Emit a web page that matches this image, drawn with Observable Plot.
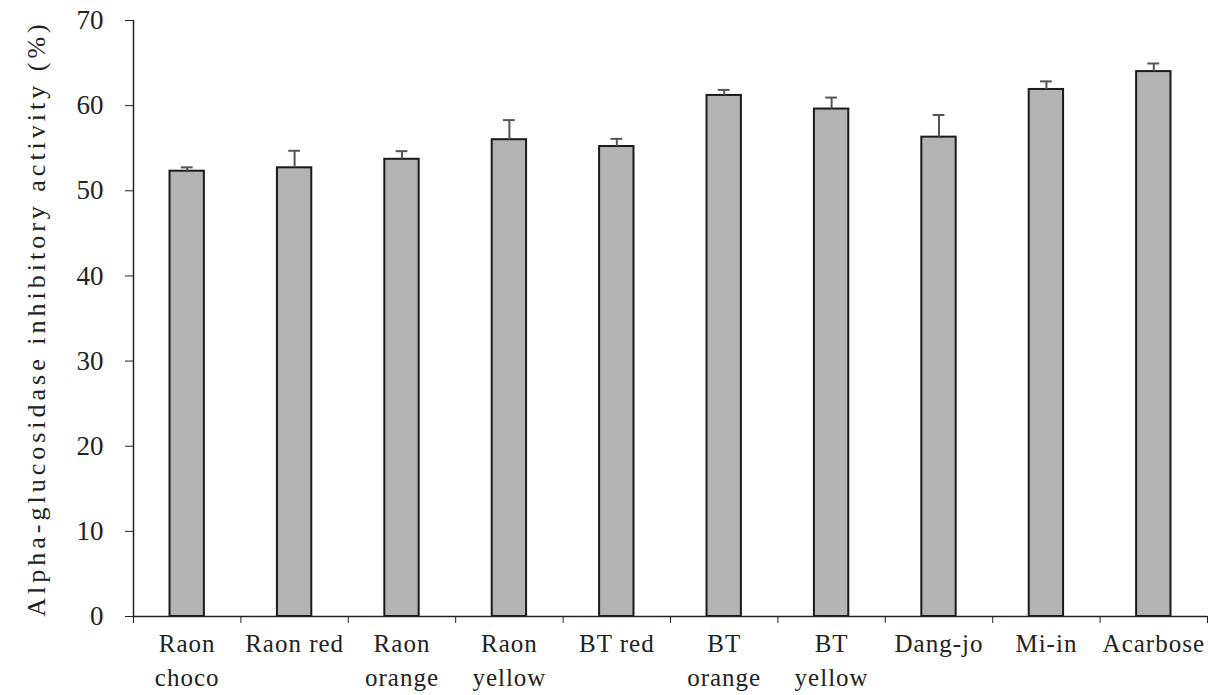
<!DOCTYPE html>
<html><head><meta charset="utf-8">
<script src="https://cdn.jsdelivr.net/npm/d3@7"></script>
<script src="https://cdn.jsdelivr.net/npm/@observablehq/plot@0.6"></script>
<style>body{margin:0;background:#fff}</style>
</head><body><div id="chart"></div>
<script>
const categories = ["Raon\nchoco","Raon red","Raon\norange","Raon\nyellow","BT red","BT\norange","BT\nyellow","Dang-jo","Mi-in","Acarbose"];
const values = [52.3, 52.7, 53.7, 56.0, 55.2, 61.2, 59.6, 56.3, 61.9, 64.0];
const errors = [0.45, 2.0, 0.95, 2.3, 0.9, 0.65, 1.35, 2.6, 0.95, 0.95];
const yTicks = [0,10,20,30,40,50,60,70];
const yLabel = "Alpha-glucosidase inhibitory activity (%)";

const data = categories.map((c,i)=>({i, c, v: values[i], e: errors[i]}));
const half = 0.16, cap = 0.055;

const chart = Plot.plot({
  width: 1221, height: 695,
  marginLeft: 133, marginRight: 14, marginTop: 20, marginBottom: 79,
  style: {fontFamily: "'Liberation Serif', 'Times New Roman', serif", fontSize: "25px", color: "#222", background: "#fff"},
  x: {type: "linear", domain: [0, categories.length]},
  y: {domain: [0, 70]},
  marks: [
    Plot.rectY(data, {x1: d=>d.i+0.5-half, x2: d=>d.i+0.5+half, y1: 0, y2: "v", fill: "#b3b3b3", stroke: "#1a1a1a", strokeWidth: 2}),
    Plot.ruleX(data, {x: d=>d.i+0.5, y1: "v", y2: d=>d.v+d.e, stroke: "#555", strokeWidth: 2}),
    Plot.ruleY(data, {y: d=>d.v+d.e, x1: d=>d.i+0.5-cap, x2: d=>d.i+0.5+cap, stroke: "#555", strokeWidth: 2}),
    Plot.axisY({ticks: yTicks, tickSize: 8, tickPadding: 22, label: null, fontSize: 27}),
    Plot.axisY({ticks: [], label: yLabel, labelAnchor: "center", labelArrow: "none", labelOffset: 107, fontSize: 26}),
    Plot.axisX({ticks: d3.range(0, categories.length+1), tickSize: 7, tickFormat: () => "", label: null}),
    Plot.axisX({ticks: d3.range(0, categories.length).map(i=>i+0.5), tickSize: 0, tickPadding: 11, tickFormat: t => categories[Math.floor(t)], label: null, fontSize: 25, lineHeight: 1.36}),
    Plot.ruleY([0], {stroke: "#222", strokeWidth: 1.5}),
    Plot.ruleX([0], {stroke: "#222", strokeWidth: 1.5})
  ]
});
d3.select(chart).selectAll("text").each(function(){
  if (this.textContent === yLabel) this.style.letterSpacing = "4px";
  else if (/[A-Za-z]/.test(this.textContent)) this.style.letterSpacing = "1px";
});
document.getElementById("chart").append(chart);
</script></body></html>
